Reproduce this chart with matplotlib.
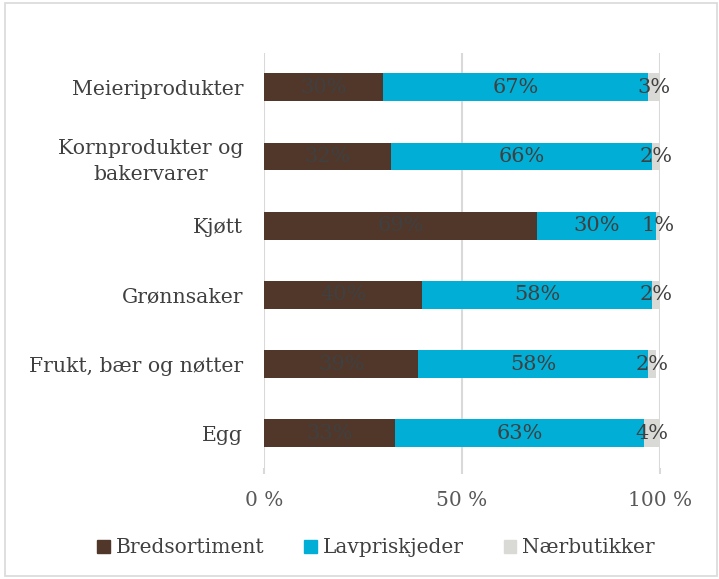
import numpy as np
import matplotlib.pyplot as plt
from matplotlib.patches import Patch

categories = ['Meieriprodukter', 'Kornprodukter og\nbakervarer', 'Kjøtt',
              'Grønnsaker', 'Frukt, bær og nøtter', 'Egg']
bredsortiment = [30, 32, 69, 40, 39, 33]
lavpris = [67, 66, 30, 58, 58, 63]
naer = [3, 2, 1, 2, 2, 4]
series_names = ['Bredsortiment', 'Lavpriskjeder', 'Nærbutikker']
colors = ['#50372A', '#00AED6', '#D9D9D6']

plt.rcParams['font.family'] = ['DejaVu Serif']

fig = plt.figure(figsize=(7.19, 5.79), dpi=100)
fig.patches.append(plt.Rectangle((0.007, 0.005), 0.99, 0.99, transform=fig.transFigure,
                                 fill=False, edgecolor='#D9D9D9', linewidth=1.2))
ax = fig.add_axes([0.367, 0.192, 0.551, 0.717])

y = np.arange(len(categories))
left = np.zeros(len(categories))
for vals, name, c in zip([bredsortiment, lavpris, naer], series_names, colors):
    vals = np.array(vals, dtype=float)
    ax.barh(y, vals, left=left, height=0.4, color=c, label=name, zorder=3)
    for yi, l, v in zip(y, left, vals):
        ax.text(l + v / 2, yi, f'{int(v)}%', ha='center', va='center',
                fontsize=15, color='#404040', zorder=4)
    left += vals

ax.set_xlim(0, 100)
ax.set_ylim(len(categories) - 0.5, -0.5)
ax.set_yticks(y)
ax.set_yticklabels(categories, fontsize=14.7, color='#404040', linespacing=1.45,
                   multialignment='center')
ax.set_xticks([0, 50, 100])
ax.set_xticklabels(['0 %', '50 %', '100 %'], fontsize=14.5, color='#595959')
ax.tick_params(axis='y', length=0, pad=15)
ax.tick_params(axis='x', length=4, color='#D9D9D9', width=1.5, pad=13)
ax.xaxis.grid(True, color='#D9D9D9', linewidth=1.5, zorder=0)
for s in ax.spines.values():
    s.set_visible(False)

handles = [Patch(color=c) for c in colors]
fig.legend(handles, series_names, loc='center', bbox_to_anchor=(0.523, 0.054), ncol=3,
           frameon=False, fontsize=14.5, handlelength=0.6, handleheight=0.6,
           handletextpad=0.3, columnspacing=2.0, labelcolor='#404040')

fig.savefig('out.png', dpi=100)
